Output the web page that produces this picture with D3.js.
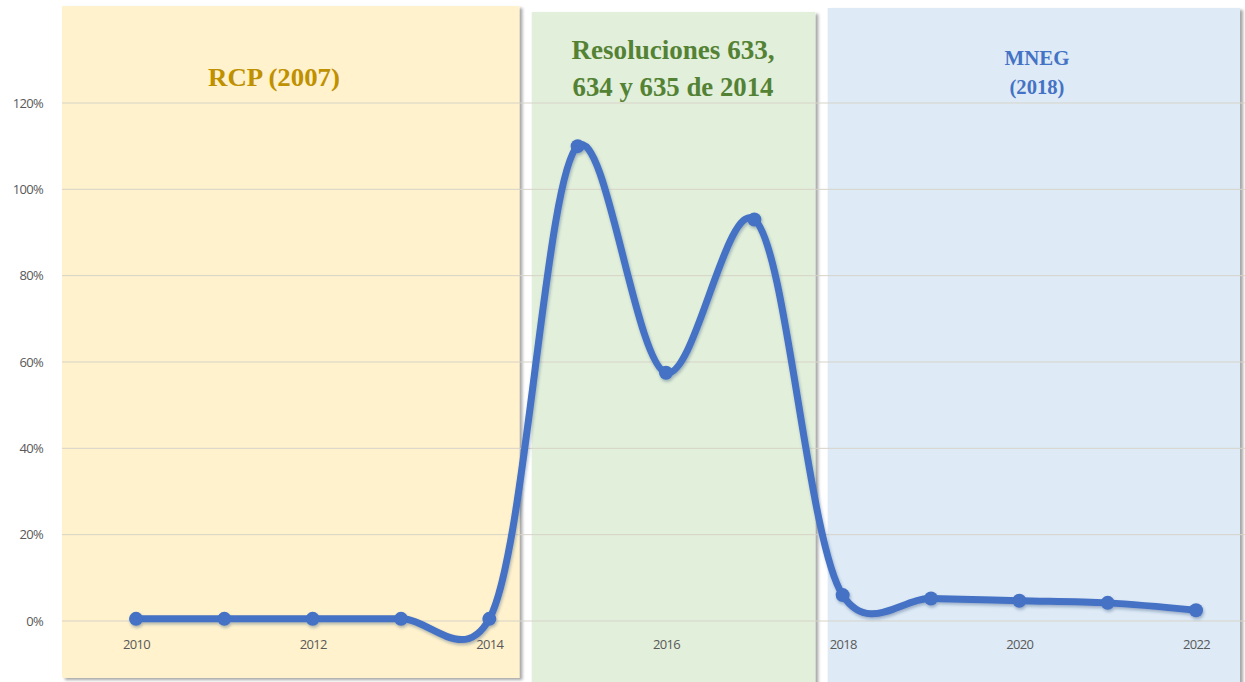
<!DOCTYPE html>
<html>
<head>
<meta charset="utf-8">
<script src="https://cdn.jsdelivr.net/npm/d3@7/dist/d3.min.js"></script>
<style>
  html, body { margin: 0; padding: 0; background: #ffffff; }
  svg { display: block; }
</style>
</head>
<body>
<svg id="chart" width="1245" height="682"></svg>
<script>
// Annual variation (share) by year
const years = [2010, 2011, 2012, 2013, 2014, 2015, 2016, 2017, 2018, 2019, 2020, 2021, 2022];
const values = [0.005, 0.005, 0.005, 0.005, 0.005, 1.10, 0.575, 0.93, 0.06, 0.052, 0.047, 0.042, 0.025];

// Axis ticks
const yTicks = [0, 0.2, 0.4, 0.6, 0.8, 1.0, 1.2];
const xTickYears = [2010, 2012, 2014, 2016, 2018, 2020, 2022];

// Regulatory periods shown as shaded panels
const periodNames = ["RCP (2007)", "Resoluciones 633, 634 y 635 de 2014", "MNEG (2018)"];
const periodTitleLines = [["RCP (2007)"], ["Resoluciones 633,", "634 y 635 de 2014"], ["MNEG", "(2018)"]];
const periodStart = [2009.5, 2014.48, 2017.83];
const periodEnd = [2014.34, 2017.69, 2022.5];
const periodFill = ["#FFF2CC", "#E2EFDA", "#DEEAF6"];
const periodTitleColor = ["#BF9000", "#548235", "#4472C4"];

const svg = d3.select("#chart");
const W = 1245, H = 682;

const x = d3.scaleLinear().domain([2010, 2022]).range([136, 1196]);
const y = d3.scaleLinear().domain([0, 1.2]).range([621, 103]);

const defs = svg.append("defs");
const panelShadow = defs.append("filter").attr("id", "panelShadow")
  .attr("x", "-5%").attr("y", "-5%").attr("width", "112%").attr("height", "112%");
panelShadow.append("feDropShadow").attr("dx", 3).attr("dy", 2).attr("stdDeviation", 1.6)
  .attr("flood-color", "#000").attr("flood-opacity", 0.35);

const lineShadow = defs.append("filter").attr("id", "lineShadow")
  .attr("x", "-5%").attr("y", "-5%").attr("width", "110%").attr("height", "110%");
lineShadow.append("feDropShadow").attr("dx", 1).attr("dy", 2).attr("stdDeviation", 1.5)
  .attr("flood-color", "#1f3b70").attr("flood-opacity", 0.35);

// Panels
const panelTop = [6, 12, 8];
const panelBottom = [678, 684, 684];
svg.append("g").selectAll("rect")
  .data(periodNames)
  .join("rect")
  .attr("x", (d, i) => (i === 0 ? 62 : x(periodStart[i])))
  .attr("y", (d, i) => panelTop[i])
  .attr("width", (d, i) => (i === 2 ? 1240 : x(periodEnd[i])) - (i === 0 ? 62 : x(periodStart[i])))
  .attr("height", (d, i) => panelBottom[i] - panelTop[i])
  .attr("fill", (d, i) => periodFill[i])
  .attr("filter", "url(#panelShadow)");

// Gridlines
svg.append("g").selectAll("line")
  .data(yTicks)
  .join("line")
  .attr("x1", 62).attr("x2", W)
  .attr("y1", d => y(d)).attr("y2", d => y(d))
  .attr("stroke", "#d6d3c8").attr("stroke-width", 1);

// Y axis labels
const yAxis = d3.axisLeft(y).tickValues(yTicks).tickFormat(d3.format(".0%")).tickSize(0).tickPadding(0);
const gy = svg.append("g").attr("transform", "translate(43,0)").call(yAxis);
gy.select(".domain").remove();
gy.selectAll("text")
  .attr("font-family", "'Open Sans', 'Liberation Sans', sans-serif")
  .attr("font-size", 13).attr("fill", "#595959")
  .attr("letter-spacing", -0.7);

// X axis labels
const xAxis = d3.axisBottom(x).tickValues(xTickYears).tickFormat(d3.format("d")).tickSize(0).tickPadding(0);
const gx = svg.append("g").attr("transform", "translate(0,640)").call(xAxis);
gx.select(".domain").remove();
gx.selectAll("text")
  .attr("font-family", "'Open Sans', 'Liberation Sans', sans-serif")
  .attr("font-size", 13).attr("fill", "#595959")
  .attr("letter-spacing", -0.7);

// Period titles
const titleSize = [26, 27, 20];
const titleY = [[86], [59, 96], [65, 94]];
const titleX = [274, 673, 1037];
const titleLen = [[132], [203, 201], [65, 55]];
periodTitleLines.forEach((lines, i) => {
  lines.forEach((t, j) => {
    svg.append("text")
      .attr("x", titleX[i]).attr("y", titleY[i][j])
      .attr("text-anchor", "middle")
      .attr("font-family", "'Liberation Serif', 'DejaVu Serif', serif")
      .attr("font-weight", "bold")
      .attr("font-size", titleSize[i])
      .attr("fill", periodTitleColor[i])
      .attr("textLength", titleLen[i][j])
      .attr("lengthAdjust", "spacingAndGlyphs")
      .text(t);
  });
});

// Data line
const data = years.map((yr, i) => ({ year: yr, value: values[i] }));
const line = d3.line().x(d => x(d.year)).y(d => y(d.value)).curve(d3.curveCatmullRom.alpha(0.2));
const series = svg.append("g").attr("filter", "url(#lineShadow)");
series.append("path")
  .datum(data)
  .attr("d", line)
  .attr("fill", "none")
  .attr("stroke", "#4472C4")
  .attr("stroke-width", 7)
  .attr("stroke-linejoin", "round")
  .attr("stroke-linecap", "round");
series.selectAll("circle")
  .data(data)
  .join("circle")
  .attr("cx", d => x(d.year))
  .attr("cy", d => y(d.value))
  .attr("r", 7)
  .attr("fill", "#4472C4");
</script>
</body>
</html>
